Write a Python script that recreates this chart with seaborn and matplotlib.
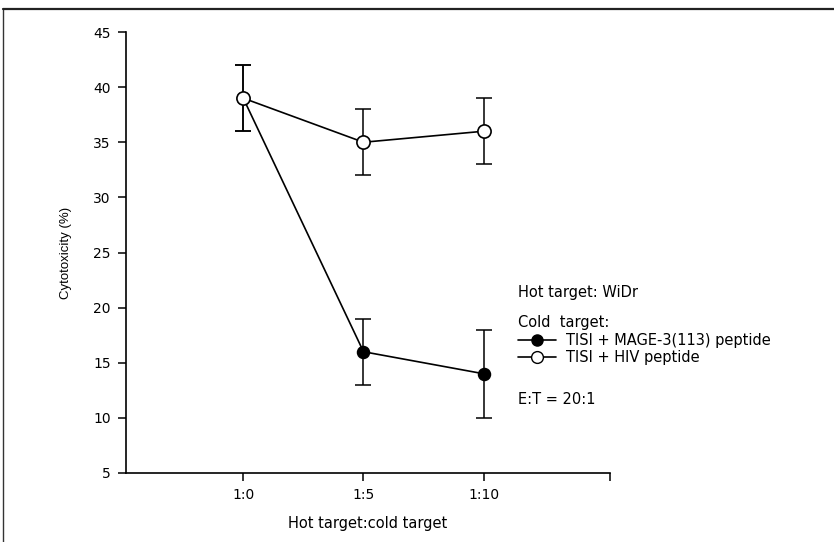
import matplotlib
matplotlib.use("Agg")
import matplotlib.pyplot as plt
from matplotlib.lines import Line2D
import seaborn as sns
import numpy as np

# Hot:cold target ratios and cytotoxicity (%) with error bar half-widths
ratios = ["1:0", "1:5", "1:10"]
positions = [1, 2, 3]
mage_vals = [39, 16, 14]
mage_err = [3, 3, 4]
hiv_vals = [39, 35, 36]
hiv_err = [3, 3, 3]

sns.set_theme(style="ticks")
plt.rcParams["font.family"] = ["DejaVu Sans"]
plt.rcParams.update({"text.color": "black", "axes.labelcolor": "black",
                     "xtick.color": "black", "ytick.color": "black"})

fig = plt.figure(figsize=(8.34, 5.42), dpi=100)
ax = fig.add_axes([126 / 834, 69 / 542, 484 / 834, 441 / 542])

# Filled circles: TISI + MAGE-3(113) peptide
ax.errorbar(positions, mage_vals, yerr=mage_err, fmt="none", ecolor="black",
            elinewidth=1.1, capsize=5.5, capthick=1.1, zorder=2)
sns.lineplot(x=positions, y=mage_vals, ax=ax, color="black", linewidth=1.2,
             marker="o", markersize=8.5, markerfacecolor="black",
             markeredgecolor="black", markeredgewidth=1.2, zorder=3)

# Open circles: TISI + HIV peptide
ax.errorbar(positions, hiv_vals, yerr=hiv_err, fmt="none", ecolor="black",
            elinewidth=1.1, capsize=5.5, capthick=1.1, zorder=4)
sns.lineplot(x=positions, y=hiv_vals, ax=ax, color="black", linewidth=1.2,
             marker="o", markersize=9.5, markerfacecolor="white",
             markeredgecolor="black", markeredgewidth=1.2, zorder=5)

ax.set_xlim(0.025, 4.05)
ax.set_ylim(5, 45)
ax.set_yticks(np.arange(5, 46, 5))
ax.set_xticks(positions + [4.05])
ax.set_xticklabels(ratios + [""])
ax.tick_params(axis="both", direction="out", length=6, width=1.1,
               pad=5, colors="black", labelsize=10)
for side in ("top", "right"):
    ax.spines[side].set_visible(False)
for side in ("left", "bottom"):
    ax.spines[side].set_linewidth(1.2)
    ax.spines[side].set_color("black")

ax.set_xlabel("Hot target:cold target", fontsize=10.5, labelpad=10)
ax.set_ylabel("Cytotoxicity (%)", fontsize=9.5, labelpad=15,
              family=["Liberation Sans", "DejaVu Sans"])

# Annotation block on the right
fs = 10.5
fig.text(518 / 834, 1 - 292 / 542, "Hot target: WiDr", fontsize=fs, va="center")
fig.text(518 / 834, 1 - 322 / 542, "Cold  target:", fontsize=fs, va="center")
fig.text(518 / 834, 1 - 400 / 542, "E:T = 20:1", fontsize=fs, va="center")

handles = [
    Line2D([], [], color="black", linewidth=1.2, marker="o", markersize=8,
           markerfacecolor="black", markeredgecolor="black"),
    Line2D([], [], color="black", linewidth=1.2, marker="o", markersize=8.5,
           markerfacecolor="white", markeredgecolor="black"),
]
leg = fig.legend(handles, ["TISI + MAGE-3(113) peptide", "TISI + HIV peptide"],
                 loc="upper left", bbox_to_anchor=(518 / 834, 1 - 333 / 542),
                 frameon=False, fontsize=fs, handlelength=2.6, handletextpad=0.7,
                 labelspacing=0.12, borderaxespad=0, borderpad=0)

# Page frame along the left and top edges
fig.add_artist(Line2D([3 / 834, 3 / 834], [0, 1 - 9 / 542], color="#333333",
                      linewidth=1.0, transform=fig.transFigure))
fig.add_artist(Line2D([3 / 834, 1], [1 - 9 / 542, 1 - 9 / 542], color="#222222",
                      linewidth=1.6, transform=fig.transFigure))

fig.savefig("out.png", dpi=100)
